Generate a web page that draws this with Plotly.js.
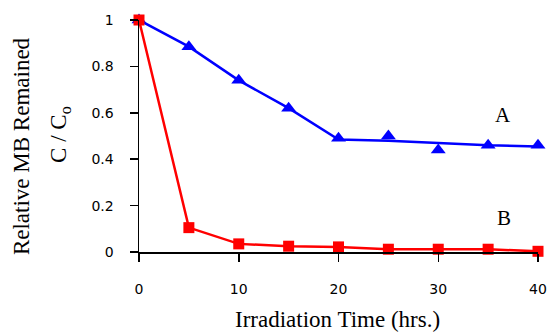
<!DOCTYPE html>
<html><head><meta charset="utf-8">
<script src="https://cdn.plot.ly/plotly-3.0.1.min.js"></script>
<style>html,body{margin:0;padding:0;background:#fff}#c{width:549px;height:332px}</style>
</head><body><div id="c"></div>
<script>
const hours = [0, 5, 10, 15, 20, 25, 30, 35, 40];
const seriesA = [1.0, 0.885, 0.74, 0.62, 0.49, 0.50, 0.44, 0.46, 0.46];
const seriesALine = [1.0, 0.885, 0.74, 0.62, 0.485, 0.48, 0.47, 0.46, 0.455];
const seriesB = [1.0, 0.105, 0.035, 0.025, 0.022, 0.012, 0.012, 0.012, 0.003];
const xTicks = [0, 10, 20, 30, 40];
const yTicks = [0, 0.2, 0.4, 0.6, 0.8, 1];
const yTickText = ['0', '0.2', '0.4', '0.6', '0.8', '1'];

const traces = [
  {x: hours, y: seriesALine, mode: 'lines', line: {color: '#0000ff', width: 2.5}, hoverinfo: 'skip', cliponaxis: false},
  {x: hours, y: seriesA, mode: 'markers', marker: {symbol: 'triangle-up', size: 13, color: '#0000ff'}, cliponaxis: false},
  {x: hours, y: seriesB, mode: 'lines+markers', line: {color: '#ff0000', width: 2.5}, marker: {symbol: 'square', size: 11, color: '#ff0000'}, cliponaxis: false}
];
const tickFont = {family: 'DejaVu Sans, Arial, sans-serif', size: 14, color: '#000'};
const serif = 'Liberation Serif, Times New Roman, serif';
const layout = {
  width: 549, height: 332,
  margin: {l: 139, r: 11, t: 20, b: 80},
  paper_bgcolor: '#fff', plot_bgcolor: '#fff',
  showlegend: false,
  xaxis: {range: [0, 40], tickvals: xTicks, ticktext: xTicks.map(String), showgrid: false, zeroline: false,
    showline: true, linecolor: '#000', linewidth: 1.5, ticks: 'outside', ticklen: 8, tickcolor: '#000', tickwidth: 1.5,
    tickfont: tickFont, ticklabelstandoff: 16},
  yaxis: {range: [0, 1], tickvals: yTicks, ticktext: yTickText, showgrid: false, zeroline: false,
    showline: true, linecolor: '#000', linewidth: 1.5, ticks: 'outside', ticklen: 8, tickcolor: '#000', tickwidth: 1.5,
    tickfont: tickFont, ticklabelstandoff: 13},
  annotations: [
    {text: 'Relative MB Remained', xref: 'paper', yref: 'paper', x: -0.293, y: 0.457, textangle: -90,
      showarrow: false, font: {family: serif, size: 23, color: '#000'}, xanchor: 'center', yanchor: 'middle'},
    {text: 'C / C<sub>o</sub>', xref: 'paper', yref: 'paper', x: -0.198, y: 0.509, textangle: -90,
      showarrow: false, font: {family: serif, size: 23, color: '#000'}, xanchor: 'center', yanchor: 'middle'},
    {text: 'Irradiation Time (hrs.)', xref: 'paper', yref: 'paper', x: 0.497, y: -0.289,
      showarrow: false, font: {family: serif, size: 23, color: '#000'}, xanchor: 'center', yanchor: 'middle'},
    {text: 'A', xref: 'x', yref: 'y', x: 36.5, y: 0.59, showarrow: false, font: {family: serif, size: 21, color: '#000'}},
    {text: 'B', xref: 'x', yref: 'y', x: 36.6, y: 0.147, showarrow: false, font: {family: serif, size: 21, color: '#000'}}
  ]
};
Plotly.newPlot('c', traces, layout, {displayModeBar: false, staticPlot: true});
</script>
</body></html>
